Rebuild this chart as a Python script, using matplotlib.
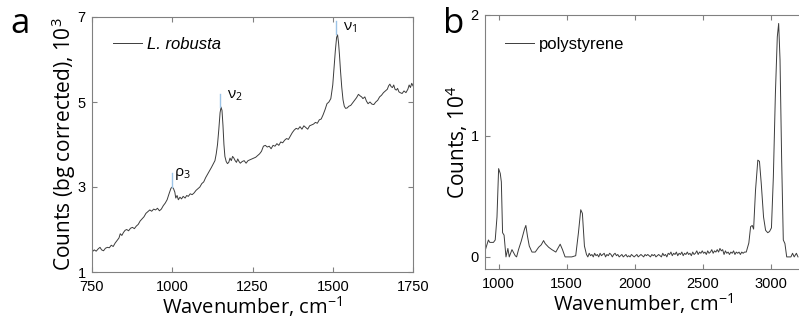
import numpy as np
import matplotlib.pyplot as plt

plt.rcParams['mathtext.fontset'] = 'custom'
plt.rcParams['mathtext.rm'] = 'Open Sans'
plt.rcParams['mathtext.it'] = 'Open Sans:italic'

# L. robusta spectrum (counts in 10^3)
wn_a = [750, 757, 763, 770, 775, 780, 786, 792, 798, 804, 810, 816, 822, 828, 834, 838, 843, 848,
        853, 858, 864, 870, 876, 882, 888, 894, 900, 906, 912, 918, 924, 930, 936, 942, 948, 954,
        960, 966, 972, 978, 984, 990, 996, 1000, 1004, 1008, 1011, 1015, 1019, 1024, 1029, 1034,
        1040, 1045, 1050, 1056, 1062, 1068, 1074, 1080, 1086, 1092, 1098, 1104, 1110, 1116, 1122,
        1128, 1133, 1137, 1141, 1145, 1149, 1152, 1155, 1158, 1161, 1164, 1168, 1172, 1176, 1180,
        1184, 1188, 1192, 1196, 1200, 1204, 1208, 1212, 1218, 1224, 1230, 1236, 1242, 1248, 1254,
        1260, 1266, 1272, 1278, 1284, 1290, 1296, 1302, 1308, 1314, 1320, 1326, 1332, 1338, 1344,
        1350, 1356, 1362, 1368, 1374, 1380, 1386, 1392, 1398, 1404, 1410, 1416, 1422, 1428, 1434,
        1440, 1446, 1452, 1458, 1464, 1470, 1476, 1482, 1488, 1494, 1500, 1504, 1508, 1512, 1515,
        1518, 1521, 1524, 1528, 1532, 1536, 1540, 1545, 1550, 1556, 1562, 1568, 1574, 1580, 1586,
        1590, 1594, 1600, 1605, 1610, 1616, 1622, 1628, 1634, 1640, 1646, 1652, 1658, 1664, 1670,
        1674, 1678, 1682, 1686, 1690, 1694, 1698, 1702, 1706, 1710, 1716, 1722, 1728, 1734, 1738,
        1742, 1746, 1750]
counts_a = [1.47, 1.52, 1.49, 1.55, 1.58, 1.52, 1.50, 1.56, 1.58, 1.57, 1.63, 1.60, 1.68, 1.74,
            1.80, 1.90, 1.86, 1.93, 1.98, 2.00, 1.97, 2.03, 2.05, 2.02, 2.08, 2.12, 2.20, 2.25,
            2.30, 2.38, 2.42, 2.46, 2.43, 2.48, 2.46, 2.50, 2.44, 2.48, 2.56, 2.62, 2.70, 2.84,
            2.97, 3.00, 2.96, 2.88, 2.74, 2.80, 2.70, 2.76, 2.72, 2.78, 2.74, 2.80, 2.78, 2.84,
            2.82, 2.86, 2.92, 2.96, 3.00, 3.08, 3.12, 3.22, 3.30, 3.38, 3.46, 3.55, 3.62, 3.78,
            4.00, 4.35, 4.75, 4.88, 4.80, 4.45, 4.00, 3.72, 3.60, 3.55, 3.58, 3.68, 3.62, 3.72,
            3.68, 3.62, 3.58, 3.66, 3.60, 3.56, 3.60, 3.62, 3.56, 3.62, 3.64, 3.66, 3.68, 3.70,
            3.74, 3.78, 3.84, 3.96, 3.98, 3.94, 3.96, 3.90, 3.98, 3.96, 4.02, 3.98, 4.06, 4.04,
            4.10, 4.14, 4.12, 4.20, 4.28, 4.34, 4.38, 4.36, 4.42, 4.36, 4.44, 4.40, 4.36, 4.44,
            4.46, 4.48, 4.52, 4.50, 4.58, 4.60, 4.70, 4.82, 4.96, 5.00, 5.08, 5.40, 5.80, 6.20,
            6.52, 6.58, 6.40, 6.10, 5.75, 5.35, 5.05, 4.90, 4.85, 4.86, 4.90, 4.92, 4.98, 5.04,
            5.10, 5.18, 5.14, 5.12, 5.08, 5.12, 5.02, 4.96, 5.00, 4.95, 4.94, 5.00, 5.04, 5.12,
            5.16, 5.22, 5.26, 5.30, 5.38, 5.42, 5.36, 5.34, 5.40, 5.30, 5.28, 5.32, 5.24, 5.22,
            5.20, 5.26, 5.22, 5.30, 5.40, 5.34, 5.44, 5.38]

# band markers: position, line bottom/top, label
band_pos = [1000, 1150, 1510]
band_low = [3.0, 4.88, 6.6]
band_high = [3.33, 5.2, 6.9]
band_labels = ['ρ$_\\mathregular{3}$', 'ν$_\\mathregular{2}$', 'ν$_\\mathregular{1}$']
band_text_x = [1006, 1172, 1532]
band_text_y = [3.3, 5.15, 6.75]

# polystyrene spectrum (counts in 10^4)
wn_b = [903, 925, 935, 962, 975, 988, 1000, 1012, 1020, 1029, 1040, 1054, 1068, 1078, 1098, 1122,
        1132, 1146, 1166, 1178, 1190, 1200, 1212, 1225, 1245, 1269, 1294, 1313, 1330, 1342, 1367,
        1391, 1420, 1440, 1452, 1469, 1488, 1510, 1537, 1566, 1586, 1603, 1615, 1630, 1645, 1655,
        1665, 1675, 1685, 1695, 1705, 1715, 1725, 1735, 1745, 1755, 1765, 1775, 1785, 1795, 1805,
        1815, 1825, 1835, 1845, 1855, 1865, 1875, 1885, 1895, 1905, 1915, 1925, 1935, 1945, 1955,
        1965, 1975, 1985, 1995, 2005, 2015, 2025, 2035, 2045, 2055, 2065, 2075, 2085, 2095, 2105,
        2115, 2125, 2135, 2145, 2155, 2165, 2175, 2185, 2195, 2205, 2215, 2225, 2235, 2245, 2255,
        2265, 2275, 2285, 2295, 2305, 2315, 2325, 2335, 2345, 2355, 2365, 2375, 2385, 2395, 2405,
        2415, 2425, 2435, 2445, 2455, 2465, 2475, 2485, 2495, 2505, 2515, 2525, 2535, 2545, 2555,
        2565, 2575, 2585, 2595, 2605, 2615, 2625, 2635, 2645, 2655, 2665, 2675, 2685, 2695, 2705,
        2715, 2725, 2735, 2745, 2755, 2765, 2775, 2785, 2795, 2805, 2818, 2837, 2850, 2862, 2872,
        2886, 2903, 2915, 2928, 2945, 2960, 2976, 2989, 3003, 3017, 3032, 3046, 3056, 3066, 3078,
        3090, 3102, 3115, 3130, 3146, 3158, 3170, 3186, 3198]
counts_b = [0.06, 0.14, 0.12, 0.12, 0.14, 0.33, 0.73, 0.69, 0.62, 0.20, 0.18, 0.00, 0.07, 0.00,
            0.06, 0.01, 0.00, 0.06, 0.13, 0.18, 0.23, 0.26, 0.17, 0.09, 0.04, 0.04, 0.08, 0.10,
            0.135, 0.11, 0.08, 0.06, 0.04, 0.08, 0.105, 0.06, 0.00, 0.00, 0.00, 0.01, 0.20, 0.39,
            0.36, 0.09, 0.02, 0.00, 0.03, 0.01, 0.02, 0.00, 0.03, 0.01, 0.02, 0.00, 0.03, 0.01,
            0.02, 0.03, 0.00, 0.02, 0.01, 0.03, 0.02, 0.00, 0.02, 0.03, 0.01, 0.02, 0.00, 0.01,
            0.02, 0.00, 0.01, 0.02, 0.00, 0.01, 0.00, 0.02, 0.01, 0.00, 0.01, 0.02, 0.00, 0.01,
            0.02, 0.01, 0.00, 0.02, 0.01, 0.02, 0.01, 0.00, 0.02, 0.01, 0.02, 0.00, 0.01, 0.02,
            0.01, 0.00, 0.03, 0.01, 0.02, 0.00, 0.03, 0.02, 0.04, 0.01, 0.03, 0.02, 0.04, 0.01,
            0.03, 0.02, 0.04, 0.01, 0.03, 0.02, 0.04, 0.02, 0.03, 0.01, 0.04, 0.02, 0.03, 0.05,
            0.02, 0.04, 0.03, 0.05, 0.03, 0.04, 0.02, 0.05, 0.03, 0.04, 0.06, 0.03, 0.05, 0.04,
            0.06, 0.04, 0.07, 0.05, 0.06, 0.02, 0.05, 0.03, 0.04, 0.02, 0.04, 0.03, 0.05, 0.02,
            0.04, 0.03, 0.04, 0.02, 0.04, 0.03, 0.04, 0.04, 0.115, 0.25, 0.26, 0.23, 0.55, 0.80,
            0.79, 0.61, 0.33, 0.22, 0.20, 0.21, 0.24, 0.66, 1.35, 1.82, 1.93, 1.63, 0.80, 0.14,
            0.11, 0.00, 0.00, 0.00, 0.03, 0.00, 0.03, 0.00]

line_col = '#3c3c3c'
spine_col = '#808080'
tick_font = 'Liberation Sans'
label_font = 'Open Sans'


def style_axes(ax, right=True):
    for s in ax.spines.values():
        s.set_color(spine_col)
        s.set_linewidth(0.8)
    ax.tick_params(direction='in', length=3.5, width=0.8, color=spine_col,
                   top=True, right=right, labelsize=10.5)
    ax.tick_params(axis='x', pad=5.5)
    ax.tick_params(axis='y', pad=4.5)
    for lab in ax.get_xticklabels() + ax.get_yticklabels():
        lab.set_fontfamily(tick_font)


fig = plt.figure(figsize=(7.99, 3.22), dpi=100)

# panel a
ax1 = fig.add_axes([92/799, 50/322, 321/799, 255/322])
ax1.plot(wn_a, counts_a, color=line_col, lw=0.7, label='L. robusta')
for p, lo, hi in zip(band_pos, band_low, band_high):
    ax1.plot([p, p], [lo, hi], color='#9cc3e6', lw=1.0)
for tx, ty, tl in zip(band_text_x, band_text_y, band_labels):
    ax1.text(tx, ty, tl, fontsize=11, family=label_font, va='center', ha='left')
ax1.set_xlim(750, 1750)
ax1.set_ylim(1, 7)
ax1.set_xticks([750, 1000, 1250, 1500, 1750])
ax1.set_yticks([1, 3, 5, 7])
style_axes(ax1)
ax1.set_xlabel('Wavenumber, cm$^\\mathregular{-1}$', fontsize=14.5, family=label_font, labelpad=0.5)
ax1.set_ylabel('Counts (bg corrected), 10$^\\mathregular{3}$', fontsize=15, family=label_font, labelpad=0)
ax1.legend(loc='upper left', frameon=False, handlelength=1.75, handletextpad=0.3,
           bbox_to_anchor=(0.019, 0.98), prop={'family': tick_font, 'style': 'italic', 'size': 12})

# panel b
ax2 = fig.add_axes([485/799, 53/322, 316/799, 254/322])
ax2.plot(wn_b, counts_b, color=line_col, lw=0.7, label='polystyrene')
ax2.set_xlim(900, 3220)
ax2.set_ylim(-0.1, 2)
ax2.set_xticks([1000, 1500, 2000, 2500, 3000])
ax2.set_yticks([0, 1, 2])
style_axes(ax2, right=False)
ax2.set_xlabel('Wavenumber, cm$^\\mathregular{-1}$', fontsize=14.5, family=label_font, labelpad=0.5)
ax2.set_ylabel('Counts, 10$^\\mathregular{4}$', fontsize=15, family=label_font, labelpad=0)
ax2.legend(loc='upper left', frameon=False, handlelength=1.75, handletextpad=0.3,
           bbox_to_anchor=(0.016, 0.972), prop={'family': tick_font, 'size': 12})

fig.text(10/799, 1 - 33/322, 'a', fontsize=25, family=label_font, va='baseline')
fig.text(443/799, 1 - 33/322, 'b', fontsize=25, family=label_font, va='baseline')

fig.savefig('out.png', dpi=100)
